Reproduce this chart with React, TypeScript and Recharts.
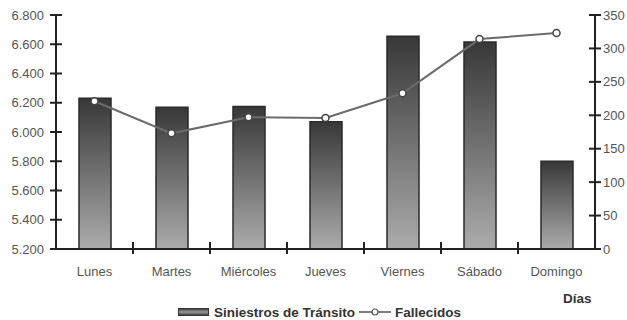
import React from 'react';
import { ComposedChart, Bar, Line, XAxis, YAxis } from 'recharts';

// Siniestros y fallecidos por día de la semana
const DIAS = ['Lunes', 'Martes', 'Miércoles', 'Jueves', 'Viernes', 'Sábado', 'Domingo'];
const SINIESTROS = [6230, 6170, 6175, 6070, 6655, 6615, 5800];
const FALLECIDOS = [221, 173, 197, 196, 233, 314, 323];

const TICKS_IZQ = [5200, 5400, 5600, 5800, 6000, 6200, 6400, 6600, 6800];
const TICKS_DER = [0, 50, 100, 150, 200, 250, 300, 350];

const data = DIAS.map((dia, i) => ({ dia, siniestros: SINIESTROS[i], fallecidos: FALLECIDOS[i] }));

const EJE = '#222';
const TEXTO = '#555';
const FUENTE = '"Liberation Sans", Arial, sans-serif';

const miles = (v: number) => String(v).replace(/\B(?=(\d{3})+(?!\d))/g, '.');

function TickIzq({ x, y, payload }: any) {
  return (
    <g>
      <line x1={x - 6} x2={x + 6} y1={y} y2={y} stroke={EJE} strokeWidth={2} />
      <text x={x - 12} y={y} dy={4.5} textAnchor="end" fill={TEXTO} fontSize={13} fontFamily={FUENTE}>
        {miles(payload.value)}
      </text>
    </g>
  );
}

function TickDer({ x, y, payload }: any) {
  return (
    <g>
      <line x1={x - 6} x2={x + 6} y1={y} y2={y} stroke={EJE} strokeWidth={2} />
      <text x={x + 8} y={y} dy={4.5} textAnchor="start" fill={TEXTO} fontSize={13} fontFamily={FUENTE}>
        {payload.value}
      </text>
    </g>
  );
}

// marca de separación entre días + etiqueta centrada
function TickDia({ x, y, payload, index }: any) {
  const mitad = payload.offset ?? 38.5;
  return (
    <g>
      {index < DIAS.length - 1 && (
        <line x1={x + mitad} x2={x + mitad} y1={y - 7} y2={y + 5} stroke={EJE} strokeWidth={2} />
      )}
      <text x={x} y={y + 27} textAnchor="middle" fill={TEXTO} fontSize={13} fontFamily={FUENTE}>
        {payload.value}
      </text>
    </g>
  );
}

export default function App() {
  return (
    <div style={{ position: 'absolute', left: 0, top: 0, width: 627, height: 320, background: '#fff' }}>
      <ComposedChart width={627} height={320} data={data} margin={{ top: 15, right: 0, left: 0, bottom: 41 }}>
        <defs>
          <linearGradient id="gradBarra" x1="0" y1="0" x2="0" y2="1">
            <stop offset="0%" stopColor="#383838" />
            <stop offset="100%" stopColor="#ababab" />
          </linearGradient>
          <linearGradient id="gradLeyenda" x1="0" y1="0" x2="0" y2="1">
            <stop offset="0%" stopColor="#333" />
            <stop offset="50%" stopColor="#999" />
            <stop offset="100%" stopColor="#333" />
          </linearGradient>
        </defs>
        <XAxis
          dataKey="dia"
          height={30}
          axisLine={{ stroke: EJE, strokeWidth: 2 }}
          tickLine={false}
          tickSize={0}
          tickMargin={0}
          tick={<TickDia />}
          interval={0}
        />
        <YAxis
          yAxisId="izq"
          width={56}
          domain={[5200, 6800]}
          ticks={TICKS_IZQ}
          axisLine={{ stroke: EJE, strokeWidth: 2 }}
          tickLine={false}
          tickSize={0}
          tickMargin={0}
          tick={<TickIzq />}
          interval={0}
          allowDataOverflow
        />
        <YAxis
          yAxisId="der"
          orientation="right"
          width={32}
          domain={[0, 350]}
          ticks={TICKS_DER}
          axisLine={{ stroke: EJE, strokeWidth: 2 }}
          tickLine={false}
          tickSize={0}
          tickMargin={0}
          tick={<TickDer />}
          interval={0}
        />
        <Bar
          yAxisId="izq"
          dataKey="siniestros"
          name="Siniestros de Tránsito"
          barSize={32}
          fill="url(#gradBarra)"
          stroke="#2a2a2a"
          strokeWidth={1.5}
          isAnimationActive={false}
        />
        <Line
          yAxisId="der"
          dataKey="fallecidos"
          name="Fallecidos"
          type="linear"
          stroke="#6b6b6b"
          strokeWidth={2}
          dot={{ r: 3.5, fill: '#fff', stroke: '#444', strokeWidth: 1.5 }}
          isAnimationActive={false}
        />
      </ComposedChart>

      <div
        style={{
          position: 'absolute', left: 563, top: 291, fontFamily: FUENTE, fontWeight: 700,
          fontSize: 13.5, color: '#333',
        }}
      >
        Días
      </div>

      <div
        style={{
          position: 'absolute', left: 178, top: 303, height: 18, display: 'flex', alignItems: 'center',
          fontFamily: FUENTE, fontWeight: 700, fontSize: 13.5, color: '#333', whiteSpace: 'nowrap',
        }}
      >
        <svg width={31} height={8} style={{ marginRight: 5 }}>
          <rect x={0.5} y={0.5} width={30} height={7} fill="url(#gradLeyenda)" stroke="#333" />
        </svg>
        <span>Siniestros de Tránsito</span>
        <svg width={32} height={10} style={{ marginLeft: 4, marginRight: 4 }}>
          <line x1={0} x2={32} y1={5} y2={5} stroke="#555" strokeWidth={1.5} />
          <circle cx={16} cy={5} r={3} fill="#fff" stroke="#555" strokeWidth={1.2} />
        </svg>
        <span>Fallecidos</span>
      </div>
    </div>
  );
}
